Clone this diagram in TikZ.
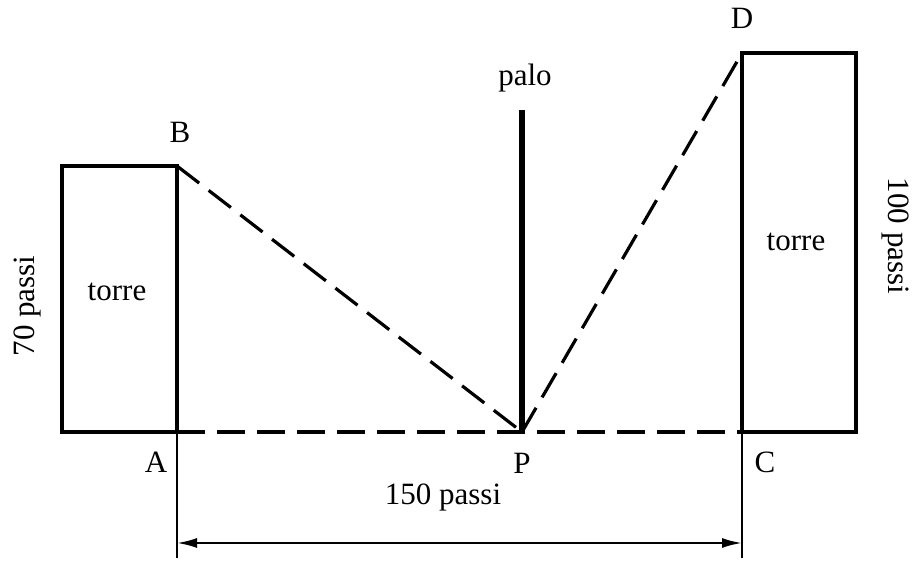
\documentclass[tikz,border=0pt]{standalone}
\usepackage{fontspec}
\setmainfont{Liberation Serif}
\usetikzlibrary{arrows.meta}
\begin{document}
\begin{tikzpicture}[x=0.5pt,y=-0.5pt,
  tower/.style={line width=2.2pt,line join=miter},
  pole/.style={line width=3.4pt},
  sight/.style={line width=1.6pt,dash pattern=on 14pt off 6pt},
  ext/.style={line width=0.6pt},
  dim/.style={line width=1.1pt,{Latex[length=10pt,width=5pt]}-{Latex[length=10pt,width=5pt]}},
  lab/.style={font=\fontsize{15.5}{18}\selectfont,inner sep=0pt}]
\useasboundingbox (0,0) rectangle (912,566);
% key points
\coordinate (A) at (177,432);
\coordinate (B) at (177,166);
\coordinate (C) at (742,432);
\coordinate (D) at (742,53);
\coordinate (P) at (522,432);
\coordinate (Ptop) at (522,110);
\coordinate (Aend) at (177,558);
\coordinate (Cend) at (742,558);
\coordinate (Adim) at (177,543);
\coordinate (Cdim) at (742,543);
% towers
\draw[tower] (62,432) rectangle (B);
\draw[tower] (C) rectangle (856,53);
% pole
\draw[pole] (P) -- (Ptop);
% sight lines
\draw[sight] (B) -- (P);
\draw[sight] (P) -- (D);
\draw[sight] (A) -- (C);
% dimension
\draw[ext] (A) -- (Aend);
\draw[ext] (C) -- (Cend);
\draw[dim] (Adim) -- (Cdim);
% labels
\node[lab] (lB) at (180,132) {B};
\node[lab] (lA) at (156,462) {A};
\node[lab] (lP) at (522,463) {P};
\node[lab] (lC) at (765,462) {C};
\node[lab] (lD) at (742,18) {D};
\node[lab] (lpalo) at (525,78) {palo};
\node[lab] (lt1) at (117,292) {torre};
\node[lab] (lt2) at (796,242) {torre};
\node[lab,rotate=90] (l70) at (27,306) {70 passi};
\node[lab,rotate=-90] (l100) at (896,236) {100 passi};
\node[lab] (l150) at (443,497) {150 passi};
\end{tikzpicture}
\end{document}
